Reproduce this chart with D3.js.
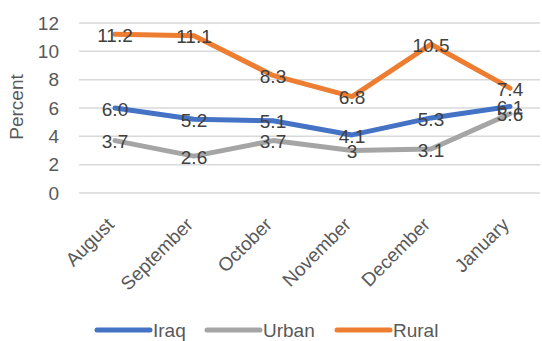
<!DOCTYPE html>
<html>
<head>
<meta charset="utf-8">
<script src="https://cdn.jsdelivr.net/npm/d3@7"></script>
<style>
  html, body { margin: 0; padding: 0; background: #fff; }
  svg { display: block; font-family: "Liberation Sans", Arial, sans-serif; }
</style>
</head>
<body>
<svg id="chart" width="542" height="341"></svg>
<script>
// Monthly rates, in percent
const months = ["August", "September", "October", "November", "December", "January"];
const iraq  = [6.0, 5.2, 5.1, 4.1, 5.3, 6.1];
const urban = [3.7, 2.6, 3.7, 3, 3.1, 5.6];
const rural = [11.2, 11.1, 8.3, 6.8, 10.5, 7.4];
const yTicks = [0, 2, 4, 6, 8, 10, 12];

const series = [
  { name: "Iraq",  values: iraq,  color: "#4472C4", fmt: d3.format(".1f") },
  { name: "Urban", values: urban, color: "#A5A5A5", fmt: d => String(d) },
  { name: "Rural", values: rural, color: "#ED7D31", fmt: d => String(d) }
];

const svg = d3.select("#chart");

const x = d3.scalePoint().domain(months).range([115, 510]);
const y = d3.scaleLinear().domain([0, 12]).range([193, 23]);

// Horizontal gridlines
svg.append("g")
  .selectAll("line")
  .data(yTicks)
  .join("line")
  .attr("x1", 79).attr("x2", 540)
  .attr("y1", d => y(d)).attr("y2", d => y(d))
  .attr("stroke", "#D9D9D9")
  .attr("stroke-width", 1.5);

// Y axis tick labels
const yAxis = d3.axisLeft(y).tickValues(yTicks).tickSize(0).tickPadding(0);
svg.append("g")
  .attr("transform", "translate(59,0)")
  .call(yAxis)
  .call(g => g.select(".domain").remove())
  .call(g => g.selectAll("text")
    .attr("fill", "#595959")
    .style("font-size", "19px")
    .style("font-family", "'Liberation Sans', Arial, sans-serif"));

// Y axis title
svg.append("text")
  .attr("transform", "translate(23,107) rotate(-90)")
  .attr("text-anchor", "middle")
  .attr("fill", "#595959")
  .style("font-size", "19px")
  .text("Percent");

// X axis category labels, rotated
const xAxis = d3.axisBottom(x).tickSize(0).tickPadding(0);
svg.append("g")
  .attr("transform", "translate(0,221)")
  .call(xAxis)
  .call(g => g.select(".domain").remove())
  .call(g => g.selectAll("text")
    .attr("fill", "#595959")
    .attr("text-anchor", "end")
    .attr("dy", "0.35em")
    .attr("transform", "translate(-5,0) rotate(-45)")
    .style("font-size", "19px")
    .style("font-family", "'Liberation Sans', Arial, sans-serif"));

// Lines
const line = d3.line()
  .x((d, i) => x(months[i]))
  .y(d => y(d));

svg.append("g")
  .selectAll("path")
  .data(series)
  .join("path")
  .attr("d", s => line(s.values))
  .attr("fill", "none")
  .attr("stroke", s => s.color)
  .attr("stroke-width", 5)
  .attr("stroke-linejoin", "round")
  .attr("stroke-linecap", "round");

// Value labels centered on each point
const labels = svg.append("g");
series.forEach(s => {
  labels.selectAll(null)
    .data(s.values)
    .join("text")
    .attr("x", (d, i) => x(months[i]))
    .attr("y", d => y(d) + 1)
    .attr("dy", "0.35em")
    .attr("text-anchor", "middle")
    .attr("fill", "#404040")
    .style("font-size", "19px")
    .text(d => s.fmt(d));
});

// Legend
const legend = svg.append("g").attr("transform", "translate(0,330)");
const legendX = [97, 207, 337];
series.forEach((s, i) => {
  const g = legend.append("g").attr("transform", `translate(${legendX[i]},0)`);
  g.append("line")
    .attr("x1", 0).attr("x2", 53)
    .attr("y1", 0).attr("y2", 0)
    .attr("stroke", s.color)
    .attr("stroke-width", 5)
    .attr("stroke-linecap", "round");
  g.append("text")
    .attr("x", 56)
    .attr("dy", "0.35em")
    .attr("fill", "#595959")
    .style("font-size", "19px")
    .text(s.name);
});
</script>
</body>
</html>
